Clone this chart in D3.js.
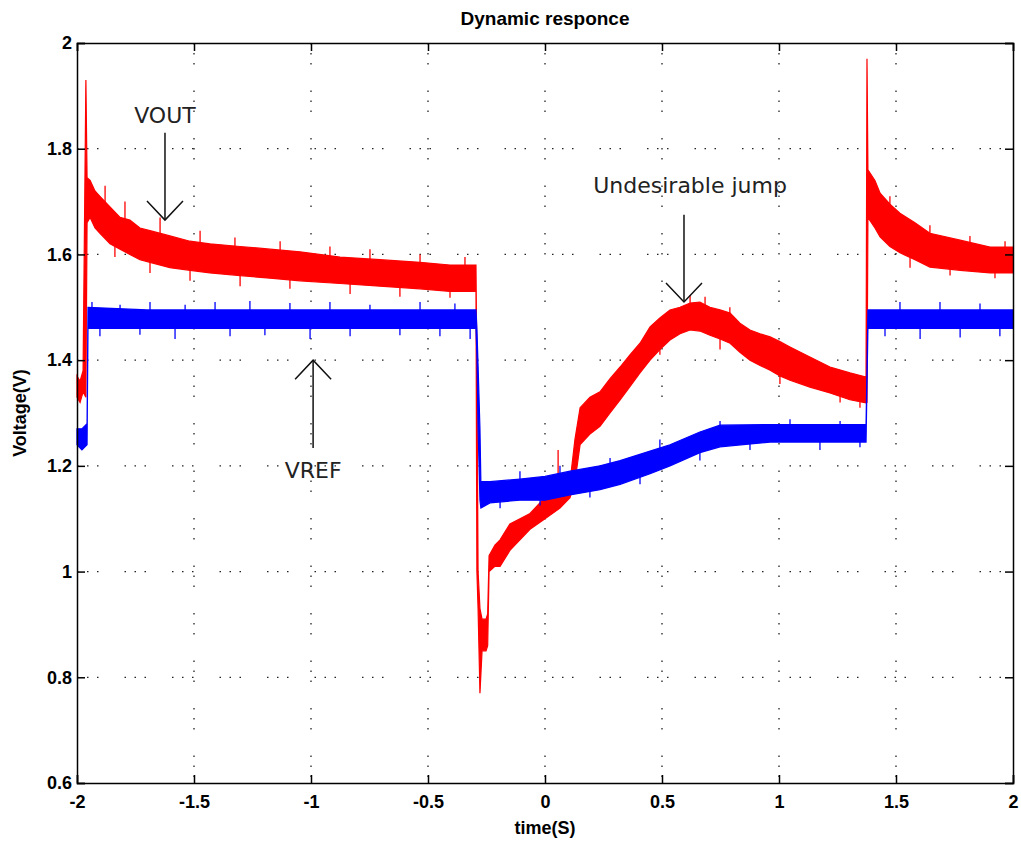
<!DOCTYPE html>
<html>
<head>
<meta charset="utf-8">
<script src="https://cdn.jsdelivr.net/npm/d3@7"></script>
<style>
  body { margin: 0; background: #fff; }
  svg { display: block; }
  .tick text { font-family: "Liberation Sans", Arial, sans-serif; font-weight: bold; font-size: 18px; fill: #000; }
  .note { font-family: "DejaVu Sans", sans-serif; font-size: 22px; fill: #222; }
</style>
</head>
<body>
<div id="chart"></div>
<script>
// ticks
const xTicks = [-2, -1.5, -1, -0.5, 0, 0.5, 1, 1.5, 2];
const xTickLabels = ["-2", "-1.5", "-1", "-0.5", "0", "0.5", "1", "1.5", "2"];
const yTicks = [0.6, 0.8, 1, 1.2, 1.4, 1.6, 1.8, 2];
const yTickLabels = ["0.6", "0.8", "1", "1.2", "1.4", "1.6", "1.8", "2"];

// VOUT envelope (time, low, high)
const voutTime = [-2.000, -1.987, -1.974, -1.962, -1.957, -1.944, -1.923, -1.902, -1.859, -1.816,
  -1.774, -1.731, -1.688, -1.603, -1.517, -1.432, -1.303, -1.175, -1.047, -0.876,
  -0.705, -0.534, -0.406, -0.295, -0.291, -0.286, -0.278, -0.269, -0.252, -0.245, -0.239,
  -0.214, -0.192, -0.150, -0.107, -0.064, 0.000, 0.064, 0.107, 0.128, 0.150,
  0.192, 0.235, 0.278, 0.321, 0.363, 0.406, 0.449, 0.491, 0.534, 0.577,
  0.620, 0.662, 0.705, 0.748, 0.791, 0.833, 0.876, 0.919, 0.962, 1.004,
  1.047, 1.132, 1.218, 1.303, 1.372, 1.376, 1.380, 1.410, 1.432, 1.474,
  1.517, 1.581, 1.645, 1.774, 1.902, 2.000];
const voutLow = [1.33, 1.32, 1.34, 1.33, 1.66, 1.67, 1.65, 1.64, 1.62, 1.61,
  1.60, 1.59, 1.585, 1.575, 1.57, 1.565, 1.56, 1.555, 1.55, 1.545,
  1.54, 1.535, 1.53, 1.53, 1.00, 0.93, 0.77, 0.85, 0.85, 0.86, 1.00,
  1.01, 1.01, 1.04, 1.06, 1.08, 1.10, 1.12, 1.14, 1.17, 1.24,
  1.26, 1.275, 1.30, 1.325, 1.35, 1.376, 1.40, 1.42, 1.438, 1.45,
  1.457, 1.455, 1.447, 1.44, 1.432, 1.415, 1.40, 1.39, 1.381, 1.37,
  1.362, 1.349, 1.338, 1.325, 1.319, 1.32, 1.67, 1.65, 1.633, 1.615,
  1.603, 1.59, 1.576, 1.57, 1.565, 1.565];
const voutHigh = [1.37, 1.36, 1.38, 1.93, 1.745, 1.74, 1.72, 1.71, 1.69, 1.67,
  1.665, 1.65, 1.645, 1.635, 1.625, 1.62, 1.615, 1.61, 1.605, 1.595,
  1.59, 1.585, 1.58, 1.58, 1.38, 1.00, 0.93, 0.91, 0.91, 0.92, 1.03,
  1.05, 1.06, 1.09, 1.10, 1.11, 1.14, 1.16, 1.17, 1.25, 1.31,
  1.33, 1.34, 1.365, 1.387, 1.41, 1.432, 1.463, 1.48, 1.495, 1.50,
  1.508, 1.51, 1.50, 1.495, 1.489, 1.47, 1.457, 1.45, 1.444, 1.435,
  1.425, 1.406, 1.387, 1.376, 1.368, 1.97, 1.76, 1.74, 1.716, 1.695,
  1.678, 1.66, 1.64, 1.627, 1.614, 1.614];

// VREF envelope (time, low, high)
const vrefTime = [-2.000, -1.979, -1.957, -1.953, -1.700, -1.400, -1.000, -0.600, -0.295, -0.291,
  -0.286, -0.278, -0.274, -0.235, -0.107, 0.000, 0.107, 0.235, 0.321, 0.449,
  0.534, 0.662, 0.748, 0.962, 1.372, 1.380, 1.700, 2.000];
const vrefLow = [1.24, 1.23, 1.24, 1.46, 1.46, 1.46, 1.46, 1.46, 1.46, 1.41,
  1.27, 1.135, 1.12, 1.13, 1.135, 1.135, 1.145, 1.155, 1.165, 1.185,
  1.20, 1.225, 1.236, 1.245, 1.245, 1.46, 1.46, 1.46];
const vrefHigh = [1.27, 1.27, 1.28, 1.50, 1.495, 1.495, 1.495, 1.495, 1.495, 1.46,
  1.39, 1.27, 1.17, 1.17, 1.175, 1.18, 1.19, 1.20, 1.21, 1.228,
  1.24, 1.264, 1.277, 1.278, 1.278, 1.495, 1.495, 1.495];

// noise spikes [time, value]
const voutSpikes = [[-1.88, 1.73], [-1.795, 1.70], [-1.645, 1.67], [-1.474, 1.645], [-1.325, 1.632],
  [-1.132, 1.625], [-0.919, 1.615], [-0.748, 1.61], [-0.534, 1.60], [-0.342, 1.595],
  [0.056, 1.23], [0.62, 1.523], [0.684, 1.52], [0.79, 1.50], [1.474, 1.71],
  [1.645, 1.655], [1.816, 1.635], [1.966, 1.625],
  [-1.838, 1.595], [-1.688, 1.565], [-1.517, 1.55], [-1.303, 1.54], [-1.09, 1.535],
  [-0.833, 1.525], [-0.62, 1.52], [-0.406, 1.518], [0.491, 1.41], [0.748, 1.42],
  [1.004, 1.355], [1.261, 1.32], [1.346, 1.31], [1.56, 1.575], [1.731, 1.56], [1.923, 1.555]];
const vrefSpikes = [[-1.936, 1.51], [-1.816, 1.505], [-1.688, 1.51], [-1.538, 1.505], [-1.41, 1.51],
  [-1.261, 1.512], [-1.09, 1.508], [-0.919, 1.51], [-0.748, 1.505], [-0.534, 1.51],
  [-0.385, 1.507], [1.517, 1.51], [1.688, 1.51], [1.859, 1.507],
  [-1.902, 1.445], [-1.731, 1.448], [-1.581, 1.44], [-1.346, 1.445], [-1.197, 1.447],
  [-1.004, 1.44], [-0.833, 1.445], [-0.62, 1.447], [-0.449, 1.445], [-0.32, 1.44],
  [1.453, 1.445], [1.603, 1.44], [1.774, 1.443], [1.944, 1.445],
  [-0.107, 1.19], [0.064, 1.20], [0.278, 1.215], [0.491, 1.25], [0.748, 1.285], [1.047, 1.288], [1.261, 1.285],
  [-0.192, 1.12], [-0.021, 1.125], [0.192, 1.14], [0.406, 1.165], [0.662, 1.21], [0.876, 1.23], [1.175, 1.23], [1.346, 1.235]];

// annotations: text, text pos, arrow from -> to
const notes = [
  { text: "VOUT", t: -1.624, v: 1.849, t0: -1.624, v0: 1.830, v1: 1.665 },
  { text: "VREF", t: -0.991, v: 1.177, t0: -0.991, v0: 1.234, v1: 1.400 },
  { text: "Undesirable jump", t: 0.62, v: 1.716, t0: 0.594, v0: 1.675, v1: 1.510 }
];

const W = 1021, H = 843;
const svg = d3.select("#chart").append("svg").attr("width", W).attr("height", H);

const x = d3.scaleLinear().domain([-2, 2]).range([77, 1013]);
const y = d3.scaleLinear().domain([0.6, 2]).range([783, 43]);

// dotted grid
const dots = "1.5,8.5,1.5,8.5,1.5,26";
svg.append("g").selectAll("line").data(xTicks.slice(1, -1)).enter().append("line")
  .attr("x1", d => x(d)).attr("x2", d => x(d)).attr("y1", y(2)).attr("y2", y(0.6))
  .attr("stroke", "#222").attr("stroke-width", 1.3).attr("stroke-dasharray", dots);
svg.append("g").selectAll("line").data(yTicks.slice(1, -1)).enter().append("line")
  .attr("y1", d => y(d)).attr("y2", d => y(d)).attr("x1", x(-2)).attr("x2", x(2))
  .attr("stroke", "#222").attr("stroke-width", 1.3).attr("stroke-dasharray", dots);

// bands
function band(time, lo, hi) {
  return time.map((t, i) => ({ t, lo: lo[i], hi: hi[i] }));
}
const voutBand = band(voutTime, voutLow, voutHigh);
const vrefBand = band(vrefTime, vrefLow, vrefHigh);

const area = d3.area()
  .x(d => x(d.t)).y0(d => y(d.lo)).y1(d => y(d.hi));

const bis = d3.bisector(d => d.t).right;
function mid(data, t) {
  const i = Math.max(0, bis(data, t) - 1);
  return (data[i].lo + data[i].hi) / 2;
}

function drawSeries(data, spikes, color) {
  const g = svg.append("g");
  g.append("path").datum(data).attr("d", area)
    .attr("fill", color).attr("stroke", color).attr("stroke-width", 1.2);
  g.selectAll("line").data(spikes).enter().append("line")
    .attr("x1", d => x(d[0])).attr("x2", d => x(d[0]))
    .attr("y1", d => y(mid(data, d[0]))).attr("y2", d => y(d[1]))
    .attr("stroke", color).attr("stroke-width", 1.3);
}
drawSeries(voutBand, voutSpikes, "#ff0000");
drawSeries(vrefBand, vrefSpikes, "#0000ff");

// axes box
const xAxisB = d3.axisBottom(x).tickValues(xTicks).tickSize(-8).tickPadding(12)
  .tickFormat((d, i) => xTickLabels[i]);
const xAxisT = d3.axisTop(x).tickValues(xTicks).tickSize(-8).tickFormat("");
const yAxisL = d3.axisLeft(y).tickValues(yTicks).tickSize(-8).tickPadding(5)
  .tickFormat((d, i) => yTickLabels[i]);
const yAxisR = d3.axisRight(y).tickValues(yTicks).tickSize(-8).tickFormat("");

svg.append("g").attr("transform", `translate(0,${y(0.6)})`).call(xAxisB);
svg.append("g").attr("transform", `translate(0,${y(2)})`).call(xAxisT);
svg.append("g").attr("transform", `translate(${x(-2)},0)`).call(yAxisL);
svg.append("g").attr("transform", `translate(${x(2)},0)`).call(yAxisR);
svg.selectAll(".domain").attr("stroke", "#000").attr("stroke-width", 1.5);
svg.selectAll(".tick line").attr("stroke", "#000").attr("stroke-width", 1.5);

// titles
svg.append("text").attr("x", 545).attr("y", 25).attr("text-anchor", "middle")
  .style("font-family", "Liberation Sans, Arial, sans-serif").style("font-weight", "bold")
  .style("font-size", "19px").text("Dynamic responce");
svg.append("text").attr("x", 545).attr("y", 834).attr("text-anchor", "middle")
  .style("font-family", "Liberation Sans, Arial, sans-serif").style("font-weight", "bold")
  .style("font-size", "18px").text("time(S)");
svg.append("text").attr("transform", "translate(26,413) rotate(-90)").attr("text-anchor", "middle")
  .style("font-family", "Liberation Sans, Arial, sans-serif").style("font-weight", "bold")
  .style("font-size", "18px").text("Voltage(V)");

// annotations with arrows
notes.forEach(n => {
  svg.append("text").attr("class", "note").attr("x", x(n.t)).attr("y", y(n.v))
    .attr("text-anchor", "middle").text(n.text);
  const ax = x(n.t0), a0 = y(n.v0), a1 = y(n.v1);
  const dir = a1 > a0 ? -1 : 1;
  const g = svg.append("g").attr("stroke", "#111").attr("stroke-width", 1.5).attr("fill", "none");
  g.append("line").attr("x1", ax).attr("x2", ax).attr("y1", a0).attr("y2", a1);
  g.append("polyline").attr("points",
    `${ax - 18},${a1 + dir * 19} ${ax},${a1} ${ax + 18},${a1 + dir * 19}`);
});
</script>
</body>
</html>
